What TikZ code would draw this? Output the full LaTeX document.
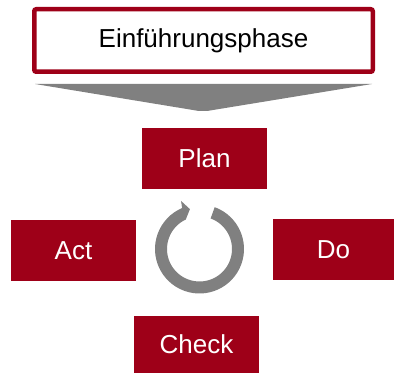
\documentclass[tikz,border=0pt]{standalone}
\usepackage{fontspec}
\setmainfont{Liberation Sans}
\definecolor{pdcared}{RGB}{158,0,24}
\definecolor{pdcagray}{RGB}{128,128,128}
\tikzset{
  phasebox/.style={draw=pdcared, line width=4.5pt, fill=white, rounded corners=2pt,
    minimum width=338.5pt, minimum height=62.5pt, inner sep=0pt,
    font=\fontsize{26}{30}\selectfont, text=black},
  stepbox/.style={fill=pdcared, text=white, inner sep=0pt,
    font=\fontsize{26}{30}\selectfont}
}
\begin{document}
\begin{tikzpicture}[x=1pt, y=-1pt]
  \useasboundingbox (0,0) rectangle (394,374);
  % header box
  \node[phasebox] (phase) at (203.5,40.5) {Einführungsphase};
  % funnel pointing down to the cycle
  \fill[pdcagray] (35,84) -- (372,84) -- (207,111) -- (199,111) -- cycle;
  % the four PDCA steps
  \node[stepbox, minimum width=125pt, minimum height=61pt] (plan) at (204.5,158.5) {Plan};
  \node[stepbox, minimum width=125pt, minimum height=61pt] (act) at (73.5,250.5) {Act};
  \node[stepbox, minimum width=121pt, minimum height=61pt] (do) at (333.5,249.5) {Do};
  \node[stepbox, minimum width=125pt, minimum height=57pt] (check) at (196.5,344.5) {Check};
  % circular arrow in the middle
  \coordinate (cyc) at (199.5,249);
  \begin{scope}[shift={(cyc)}, yscale=-1]
    \fill[pdcagray]
      (70:44.5) arc[start angle=70, end angle=-247, radius=44.5]
      -- (-249:51.5) -- (-256.5:41) -- (-245:32.5)
      arc[start angle=-245, end angle=70, radius=32.5] -- cycle;
  \end{scope}
\end{tikzpicture}
\end{document}
